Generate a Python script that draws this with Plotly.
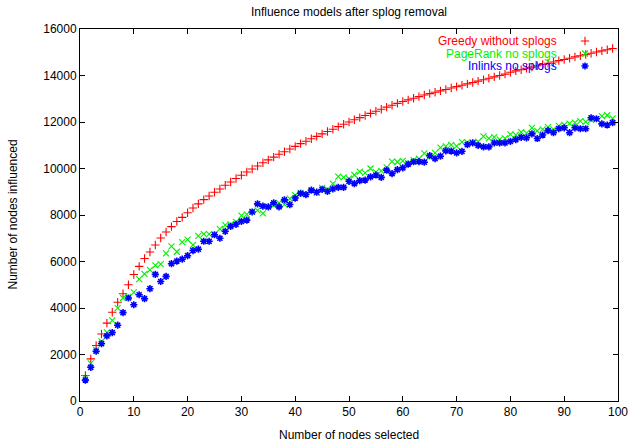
import plotly.graph_objects as go

# ---- data ----
nodes_selected = list(range(1, 100))

greedy_without_splogs = [
    1100, 1810, 2390, 2880, 3350, 3820, 4250, 4610, 5000, 5440,
    5790, 6130, 6410, 6710, 7010, 7270, 7500, 7720, 7900, 8100,
    8300, 8480, 8660, 8820, 8980, 9120, 9280, 9420, 9570, 9710,
    9850, 9980, 10110, 10250, 10370, 10490, 10610, 10720, 10840, 10950,
    11070, 11170, 11280, 11380, 11490, 11590, 11690, 11800, 11900, 12000,
    12100, 12190, 12280, 12370, 12460, 12550, 12640, 12720, 12800, 12880,
    12950, 13020, 13090, 13160, 13220, 13280, 13340, 13400, 13460, 13520,
    13580, 13640, 13700, 13760, 13820, 13880, 13940, 14000, 14060, 14140,
    14200, 14250, 14310, 14360, 14420, 14470, 14530, 14580, 14640, 14690,
    14740, 14800, 14850, 14900, 14960, 15010, 15060, 15110, 15160,
]

pagerank_no_splogs = [
    980, 1620, 2200, 2560, 2950, 3470, 3990, 4430, 4480, 4670,
    5240, 5470, 5640, 5830, 5890, 6350, 6650, 6420, 6830, 6940,
    6710, 7100, 7180, 7180, 7170, 7400, 7560, 7600, 7700, 7970,
    8030, 8140, 8200, 8070, 8350, 8420, 8520, 8450, 8700, 8850,
    8950, 8900, 9050, 8950, 9170, 9100, 9350, 9650, 9620, 9560,
    9720, 9870, 9810, 10000, 9840, 9900, 10050, 10300, 10280, 10330,
    10230, 10360, 10420, 10650, 10500, 10670, 10900, 10950, 11020, 10960,
    11130, 11120, 11100, 11150, 11380, 11300, 11350, 11250, 11300, 11470,
    11450, 11560, 11520, 11750, 11620, 11680, 11780, 11680, 11830, 11880,
    11930, 11970, 12040, 12010, 12090, 12120, 12250, 12290, 12160,
]

inlinks_no_splogs = [
    900, 1450, 2140, 2470, 2800, 2945, 3260, 3800, 4430, 4140,
    4570, 4400, 4830, 5445, 5140, 5360, 5905, 6020, 6100, 6250,
    6470, 6530, 6870, 6870, 7150, 7000, 7300, 7510, 7600, 7730,
    7780, 8130, 8480, 8380, 8350, 8520, 8350, 8650, 8450, 8730,
    8930, 8880, 9070, 8980, 9100, 9020, 9120, 9190, 9190, 9450,
    9350, 9480, 9500, 9640, 9720, 9620, 9930, 9780, 9950, 10030,
    10190, 10290, 10300, 10270, 10550, 10420, 10530, 10760, 10750, 10670,
    10740, 11030, 11100, 10990, 10930, 10930, 11100, 11100, 11100, 11170,
    11240, 11340, 11320, 11490, 11290, 11440, 11630, 11540, 11710, 11750,
    11540, 11750, 11710, 11710, 12180, 12140, 11920, 11870, 11970,
]

series_names = ["Greedy without splogs", "PageRank no splogs", "Inlinks no splogs"]
series_values = [greedy_without_splogs, pagerank_no_splogs, inlinks_no_splogs]
series_colors = ["#ff0000", "#00f000", "#0000ff"]
series_symbols = ["cross-thin", "x-thin", "asterisk"]
series_widths = [1.1, 1.1, 1.6]

x_ticks = list(range(0, 101, 10))
y_ticks = list(range(0, 16001, 2000))

FONT = "Liberation Sans, Arial, Helvetica, sans-serif"

fig = go.Figure()
for name, vals, col, sym, lw in zip(series_names, series_values, series_colors,
                                    series_symbols, series_widths):
    fig.add_trace(go.Scatter(
        x=nodes_selected, y=vals, mode="markers", name=name, showlegend=False,
        marker=dict(symbol=sym, size=6, color=col, line=dict(color=col, width=lw)),
    ))

# legend keys on an overlay axis in plot-fraction coordinates
legend_rows_px = [41, 53.5, 66]
plot_top, plot_bottom, plot_left, plot_right = 29, 401, 80, 618
legend_y = [(plot_bottom - p) / (plot_bottom - plot_top) for p in legend_rows_px]
key_x = (585 - plot_left) / (plot_right - plot_left)
text_x = (559 - plot_left) / (plot_right - plot_left)
for name, col, sym, lw, ly in zip(series_names, series_colors, series_symbols,
                                  series_widths, legend_y):
    fig.add_trace(go.Scatter(
        x=[key_x], y=[ly], xaxis="x2", yaxis="y2", mode="markers", showlegend=False,
        hoverinfo="skip",
        marker=dict(symbol=sym, size=6, color=col, line=dict(color=col, width=lw)),
    ))
    fig.add_annotation(x=text_x, y=ly, xref="paper", yref="paper", text=name,
                       showarrow=False, xanchor="right", yanchor="middle",
                       font=dict(family=FONT, size=12, color=col))

axis_common = dict(
    showline=True, linecolor="#000000", linewidth=1, mirror="ticks",
    ticks="inside", ticklen=5, tickwidth=1, tickcolor="#000000",
    showgrid=False, zeroline=False, automargin=False,
    tickfont=dict(family=FONT, size=12, color="#000000"),
)

fig.update_layout(
    width=630, height=443, autosize=False,
    margin=dict(l=plot_left, r=630 - plot_right, t=plot_top, b=443 - plot_bottom,
                autoexpand=False),
    paper_bgcolor="white", plot_bgcolor="white",
    xaxis=dict(range=[0, 100], tickvals=x_ticks, tickformat="d", **axis_common),
    yaxis=dict(range=[0, 16000], tickvals=y_ticks, tickformat="d", **axis_common),
    xaxis2=dict(range=[0, 1], overlaying="x", visible=False, fixedrange=True),
    yaxis2=dict(range=[0, 1], overlaying="y", visible=False, fixedrange=True),
    showlegend=False,
    title=dict(text="Influence models after splog removal", x=(plot_left + plot_right) / 2 / 630,
               xanchor="center", y=1 - 11.5 / 443, yanchor="middle",
               font=dict(family=FONT, size=12, color="#000000")),
)

fig.add_annotation(text="Number of nodes selected", xref="paper", yref="paper",
                   x=0.5, y=(plot_bottom - 435) / (plot_bottom - plot_top),
                   showarrow=False, xanchor="center", yanchor="middle",
                   font=dict(family=FONT, size=12, color="#000000"))
fig.add_annotation(text="Number of nodes influenced", xref="paper", yref="paper",
                   x=(12.5 - plot_left) / (plot_right - plot_left), y=0.5,
                   textangle=-90, showarrow=False, xanchor="center", yanchor="middle",
                   font=dict(family=FONT, size=12, color="#000000"))

fig.write_html(
    "out.html",
    config={"displayModeBar": False, "responsive": False},
    post_script="document.body.style.margin='0';document.body.style.padding='0';"
                "document.body.style.overflow='hidden';",
)
